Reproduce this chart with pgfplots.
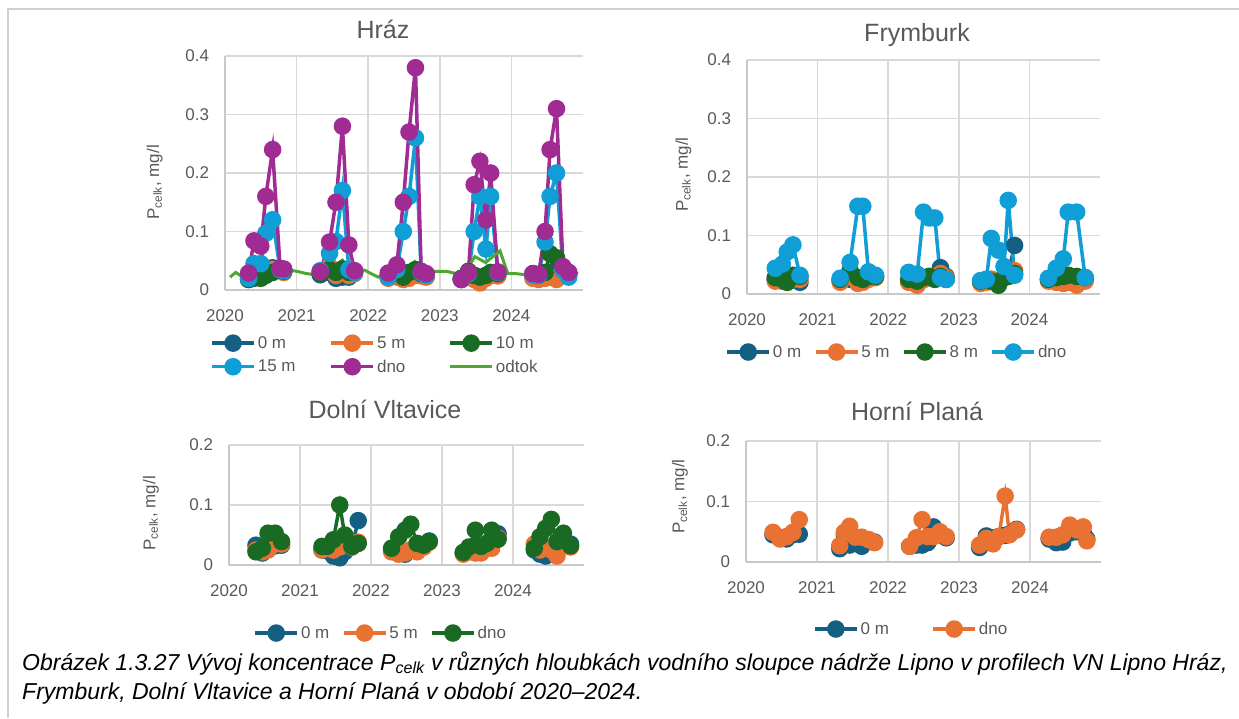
\documentclass[border=0pt]{standalone}
\usepackage{fontspec}
\setmainfont{Liberation Sans}
\usepackage{pgfplots}
\usepackage{pgfplotstable}
\pgfplotsset{compat=1.18}

\definecolor{c0}{HTML}{156082}
\definecolor{c5}{HTML}{E97132}
\definecolor{c10}{HTML}{196B24}
\definecolor{c15}{HTML}{0F9ED5}
\definecolor{cdno}{HTML}{A02B93}
\definecolor{codtok}{HTML}{4EA72E}
\definecolor{txtgray}{HTML}{595959}
\definecolor{gridgray}{HTML}{D9D9D9}
\definecolor{axisgray}{HTML}{C8C8C8}
\definecolor{framegray}{HTML}{D0D0D0}

\newcommand{\ticksize}{\fontsize{17}{20}\selectfont}
\newcommand{\titlesize}{\fontsize{25}{29}\selectfont}
\newcommand{\capsize}{\fontsize{23}{27}\selectfont}

\pgfplotstableread{
x m0 m5 m10 m15 dno
2020.33 0.018 0.020 0.018 0.020 0.029
2020.405 0.020 0.025 0.022 0.045 0.084
2020.50 0.022 0.024 0.020 0.045 0.075
2020.57 0.026 0.028 0.025 0.097 0.16
2020.665 0.038 0.035 0.030 0.12 0.24
2020.77 0.035 0.034 0.036 0.035 0.037
2020.82 0.032 0.030 0.032 0.033 0.036
nan nan nan nan nan nan
2021.33 0.026 0.030 0.028 0.033 0.031
2021.46 0.030 0.040 0.035 0.063 0.082
2021.55 0.020 0.025 0.030 0.083 0.15
2021.64 0.022 0.030 0.036 0.17 0.28
2021.73 0.022 0.025 0.030 0.035 0.077
2021.81 0.030 0.028 0.032 0.030 0.033
nan nan nan nan nan nan
2022.28 0.022 0.020 0.025 0.022 0.029
2022.40 0.024 0.022 0.030 0.035 0.043
2022.49 0.020 0.018 0.022 0.10 0.15
2022.57 0.022 0.020 0.030 0.16 0.27
2022.66 0.028 0.025 0.035 0.26 0.38
2022.74 0.026 0.024 0.028 0.030 0.032
2022.81 0.024 0.022 0.026 0.025 0.028
nan nan nan nan nan nan
2023.30 0.018 0.018 0.020 0.018 0.018
2023.40 0.022 0.025 0.032 0.028 0.030
2023.48 0.020 0.018 0.025 0.10 0.18
2023.56 0.020 0.012 0.022 0.16 0.22
2023.645 0.022 0.020 0.025 0.07 0.12
2023.71 0.026 0.025 0.030 0.16 0.20
2023.81 0.026 0.024 0.028 0.030 0.031
nan nan nan nan nan nan
2024.30 0.024 0.020 0.028 0.026 0.028
2024.38 0.022 0.018 0.025 0.025 0.027
2024.47 0.025 0.020 0.030 0.082 0.10
2024.54 0.030 0.022 0.062 0.16 0.24
2024.63 0.028 0.018 0.055 0.20 0.31
2024.72 0.030 0.025 0.035 0.034 0.040
2024.80 0.026 0.028 0.030 0.022 0.030
}\hraz

\pgfplotstableread{
x y
2020.07 0.022
2020.15 0.030
2020.30 0.018
2020.43 0.028
2020.51 0.020
2020.62 0.035
2020.72 0.040
2020.86 0.035
2021.00 0.032
2021.14 0.028
2021.28 0.026
2021.37 0.026
2021.46 0.048
2021.55 0.043
2021.64 0.051
2021.72 0.037
2021.84 0.034
2021.95 0.034
2022.04 0.028
2022.14 0.022
2022.26 0.028
2022.35 0.028
2022.42 0.047
2022.49 0.034
2022.58 0.037
2022.65 0.048
2022.72 0.034
2022.84 0.032
2022.95 0.032
2023.09 0.032
2023.23 0.028
2023.33 0.026
2023.49 0.057
2023.64 0.047
2023.84 0.067
2023.95 0.028
2024.06 0.028
2024.20 0.026
2024.38 0.028
2024.47 0.040
2024.63 0.037
2024.77 0.035
2024.93 0.028
}\odtok

\pgfplotstableread{
x m0 m5 m8 dno
2020.40 0.025 0.022 0.028 0.044
2020.50 0.022 0.028 0.025 0.051
2020.57 0.025 0.020 0.020 0.072
2020.65 0.030 0.025 0.032 0.084
2020.75 0.020 0.025 0.030 0.032
nan nan nan nan nan
2021.32 0.022 0.020 0.025 0.027
2021.46 0.025 0.030 0.040 0.054
2021.57 0.020 0.018 0.028 0.15
2021.64 0.022 0.020 0.025 0.15
2021.72 0.028 0.025 0.030 0.038
2021.82 0.030 0.028 0.030 0.032
nan nan nan nan nan
2022.29 0.022 0.020 0.025 0.037
2022.41 0.020 0.015 0.022 0.034
2022.50 0.025 0.025 0.028 0.14
2022.58 0.028 0.030 0.030 0.13
2022.66 0.030 0.028 0.025 0.13
2022.74 0.045 0.035 0.030 0.028
2022.82 0.030 0.028 0.025 0.025
nan nan nan nan nan
2023.31 0.020 0.018 0.022 0.023
2023.39 0.022 0.020 0.025 0.025
2023.46 0.025 0.025 0.022 0.095
2023.56 0.020 0.018 0.015 0.075
2023.64 0.028 0.030 0.028 0.047
2023.70 0.035 0.030 0.030 0.16
2023.79 0.083 0.040 0.035 0.032
nan nan nan nan nan
2024.27 0.025 0.022 0.025 0.027
2024.38 0.022 0.020 0.028 0.044
2024.48 0.025 0.018 0.030 0.060
2024.55 0.030 0.020 0.032 0.14
2024.67 0.028 0.015 0.030 0.14
2024.79 0.025 0.022 0.028 0.028
}\fry

\pgfplotstableread{
x m0 m5 dno
2020.38 0.033 0.025 0.022
2020.47 0.020 0.022 0.028
2020.55 0.028 0.025 0.053
2020.65 0.032 0.035 0.053
2020.74 0.033 0.035 0.039
nan nan nan nan
2021.31 0.025 0.025 0.031
2021.38 0.024 0.028 0.031
2021.47 0.015 0.025 0.042
2021.56 0.012 0.030 0.100
2021.63 0.022 0.035 0.050
2021.73 0.030 0.030 0.031
2021.82 0.074 0.038 0.036
nan nan nan nan
2022.29 0.025 0.022 0.028
2022.39 0.022 0.018 0.047
2022.48 0.018 0.020 0.058
2022.56 0.025 0.025 0.068
2022.65 0.030 0.022 0.036
2022.74 0.030 0.030 0.033
2022.82 0.040 0.038 0.039
nan nan nan nan
2023.30 0.020 0.018 0.021
2023.38 0.025 0.022 0.030
2023.47 0.030 0.020 0.058
2023.55 0.025 0.020 0.031
2023.63 0.035 0.030 0.036
2023.70 0.040 0.028 0.058
2023.79 0.052 0.045 0.043
nan nan nan nan
2024.30 0.025 0.035 0.028
2024.38 0.018 0.025 0.047
2024.46 0.015 0.030 0.061
2024.54 0.028 0.025 0.076
2024.62 0.030 0.015 0.039
2024.71 0.040 0.035 0.053
2024.81 0.035 0.030 0.032
}\dolni

\pgfplotstableread{
x m0 dno
2020.38 0.045 0.049
2020.48 0.040 0.038
2020.57 0.038 0.042
2020.66 0.045 0.049
2020.75 0.046 0.070
nan nan nan
2021.32 0.022 0.027
2021.385 0.045 0.049
2021.46 0.028 0.059
2021.54 0.040 0.041
2021.63 0.026 0.041
2021.73 0.035 0.037
2021.81 0.033 0.032
nan nan nan
2022.305 0.026 0.026
2022.40 0.028 0.040
2022.48 0.028 0.070
2022.56 0.032 0.042
2022.64 0.058 0.042
2022.73 0.045 0.050
2022.82 0.040 0.042
nan nan nan
2023.29 0.024 0.028
2023.385 0.043 0.039
2023.48 0.040 0.030
2023.56 0.042 0.042
2023.65 0.044 0.109
2023.71 0.046 0.045
2023.81 0.054 0.053
nan nan nan
2024.27 0.038 0.041
2024.37 0.032 0.041
2024.46 0.033 0.045
2024.56 0.048 0.061
2024.66 0.050 0.053
2024.75 0.048 0.058
2024.80 0.038 0.035
}\horni

\pgfplotsset{
  panel/.style={
    scale only axis,
    xmin=2020, xmax=2025, ymin=0,
    xtick={2020,2021,2022,2023,2024},
    axis x line*=bottom, axis y line*=left,
    axis line style={draw=axisgray, line width=1.5pt, -},
    grid=major,
    major grid style={draw=gridgray, line width=1.5pt},
    major tick length=0pt,
    tick label style={font=\ticksize, text=txtgray},
    /pgf/number format/assume math mode=true,
    /pgf/number format/1000 sep={},
    xticklabel style={anchor=center, yshift=-26pt},
    yticklabel style={anchor=east, xshift=-12.5pt},
    unbounded coords=jump,
    clip=false,
    legend style={draw=none, fill=none, font=\ticksize, text=txtgray,
      legend cell align=left, row sep=6pt},
    legend image code/.code={\draw[mark repeat=2,mark phase=2,#1]
      plot coordinates {(0pt,0pt) (21pt,0pt) (42pt,0pt)};},
  },
  ser/.style={color=#1, line width=3.5pt, mark=*, mark size=7pt,
    mark options={solid, fill=#1, draw=#1}},
  ylab/.style 2 args={ylabel={P\textsubscript{celk}, mg/l},
    every axis y label/.style={at={(axis description cs:#1,#2)}, rotate=90,
      anchor=center, font=\ticksize, text=txtgray}},
}

\begin{document}
\begin{tikzpicture}
\path[use as bounding box] (0,0) rectangle (1239pt,718pt);
\draw[framegray, line width=2pt] (8pt,0pt) -- (8pt,709pt) -- (1239pt,709pt);

% Hraz
\begin{axis}[panel, at={(225pt,428pt)}, anchor=south west,
  width=358pt, height=234pt, ymax=0.4, ytick={0,0.1,0.2,0.3,0.4},
  ylab={-0.196}{0.46},
  legend columns=3,
  legend style={at={(axis description cs:-0.05,-0.278)}, anchor=west,
    /tikz/column 2/.style={column sep=32pt},
    /tikz/column 4/.style={column sep=41pt}}]
\addplot[ser=c0] table[x=x,y=m0] {\hraz};
\addlegendentry{0 m}
\addplot[ser=c5] table[x=x,y=m5] {\hraz};
\addlegendentry{5 m}
\addplot[ser=c10] table[x=x,y=m10] {\hraz};
\addlegendentry{10 m}
\addplot[ser=c15] table[x=x,y=m15] {\hraz};
\addlegendentry{15 m}
\addplot[ser=cdno] table[x=x,y=dno] {\hraz};
\addlegendentry{dno}
\addplot[color=codtok, line width=3pt, no marks] table[x=x,y=y] {\odtok};
\addlegendentry{odtok}
\end{axis}

% Frymburk
\begin{axis}[panel, at={(747pt,424pt)}, anchor=south west,
  width=353pt, height=234pt, ymax=0.4, ytick={0,0.1,0.2,0.3,0.4},
  ylab={-0.18}{0.51},
  legend columns=4,
  legend style={at={(axis description cs:-0.07,-0.248)}, anchor=west,
    /tikz/every even column/.append style={column sep=10.5pt}}]
\addplot[ser=c0] table[x=x,y=m0] {\fry};
\addlegendentry{0 m}
\addplot[ser=c5] table[x=x,y=m5] {\fry};
\addlegendentry{5 m}
\addplot[ser=c10] table[x=x,y=m8] {\fry};
\addlegendentry{8 m}
\addplot[ser=c15] table[x=x,y=dno] {\fry};
\addlegendentry{dno}
\end{axis}

% Dolni Vltavice
\begin{axis}[panel, at={(229pt,153pt)}, anchor=south west,
  width=355pt, height=120pt, ymax=0.2, ytick={0,0.1,0.2},
  ylab={-0.22}{0.43},
  legend columns=3,
  legend style={at={(axis description cs:0.06,-0.567)}, anchor=west,
    /tikz/every even column/.append style={column sep=10.5pt}}]
\addplot[ser=c0] table[x=x,y=m0] {\dolni};
\addlegendentry{0 m}
\addplot[ser=c5] table[x=x,y=m5] {\dolni};
\addlegendentry{5 m}
\addplot[ser=c10] table[x=x,y=dno] {\dolni};
\addlegendentry{dno}
\end{axis}

% Horni Plana
\begin{axis}[panel, at={(746pt,156pt)}, anchor=south west,
  width=355pt, height=121pt, ymax=0.2, ytick={0,0.1,0.2},
  ylab={-0.186}{0.54},
  legend columns=2,
  legend style={at={(axis description cs:0.18,-0.554)}, anchor=west,
    /tikz/every even column/.append style={column sep=40.5pt}}]
\addplot[ser=c0] table[x=x,y=m0] {\horni};
\addlegendentry{0 m}
\addplot[ser=c5] table[x=x,y=dno] {\horni};
\addlegendentry{dno}
\end{axis}

% titles
\node[font=\titlesize, text=txtgray, anchor=base] at (383pt,679pt) {Hráz};
\node[font=\titlesize, text=txtgray, anchor=base] at (917pt,676.5pt) {Frymburk};
\node[font=\titlesize, text=txtgray, anchor=base] at (385pt,299.5pt) {Dolní Vltavice};
\node[font=\titlesize, text=txtgray, anchor=base] at (917pt,297.5pt) {Horní Planá};

% caption
\node[font=\capsize\itshape, anchor=base west, inner sep=0pt] at (22pt,48pt)
  {Obrázek 1.3.27 Vývoj koncentrace P\textsubscript{celk} v různých hloubkách vodního sloupce nádrže Lipno v profilech VN Lipno Hráz,};
\node[font=\capsize\itshape, anchor=base west, inner sep=0pt] at (22pt,19pt)
  {Frymburk, Dolní Vltavice a Horní Planá v období 2020–2024.};
\end{tikzpicture}
\end{document}
